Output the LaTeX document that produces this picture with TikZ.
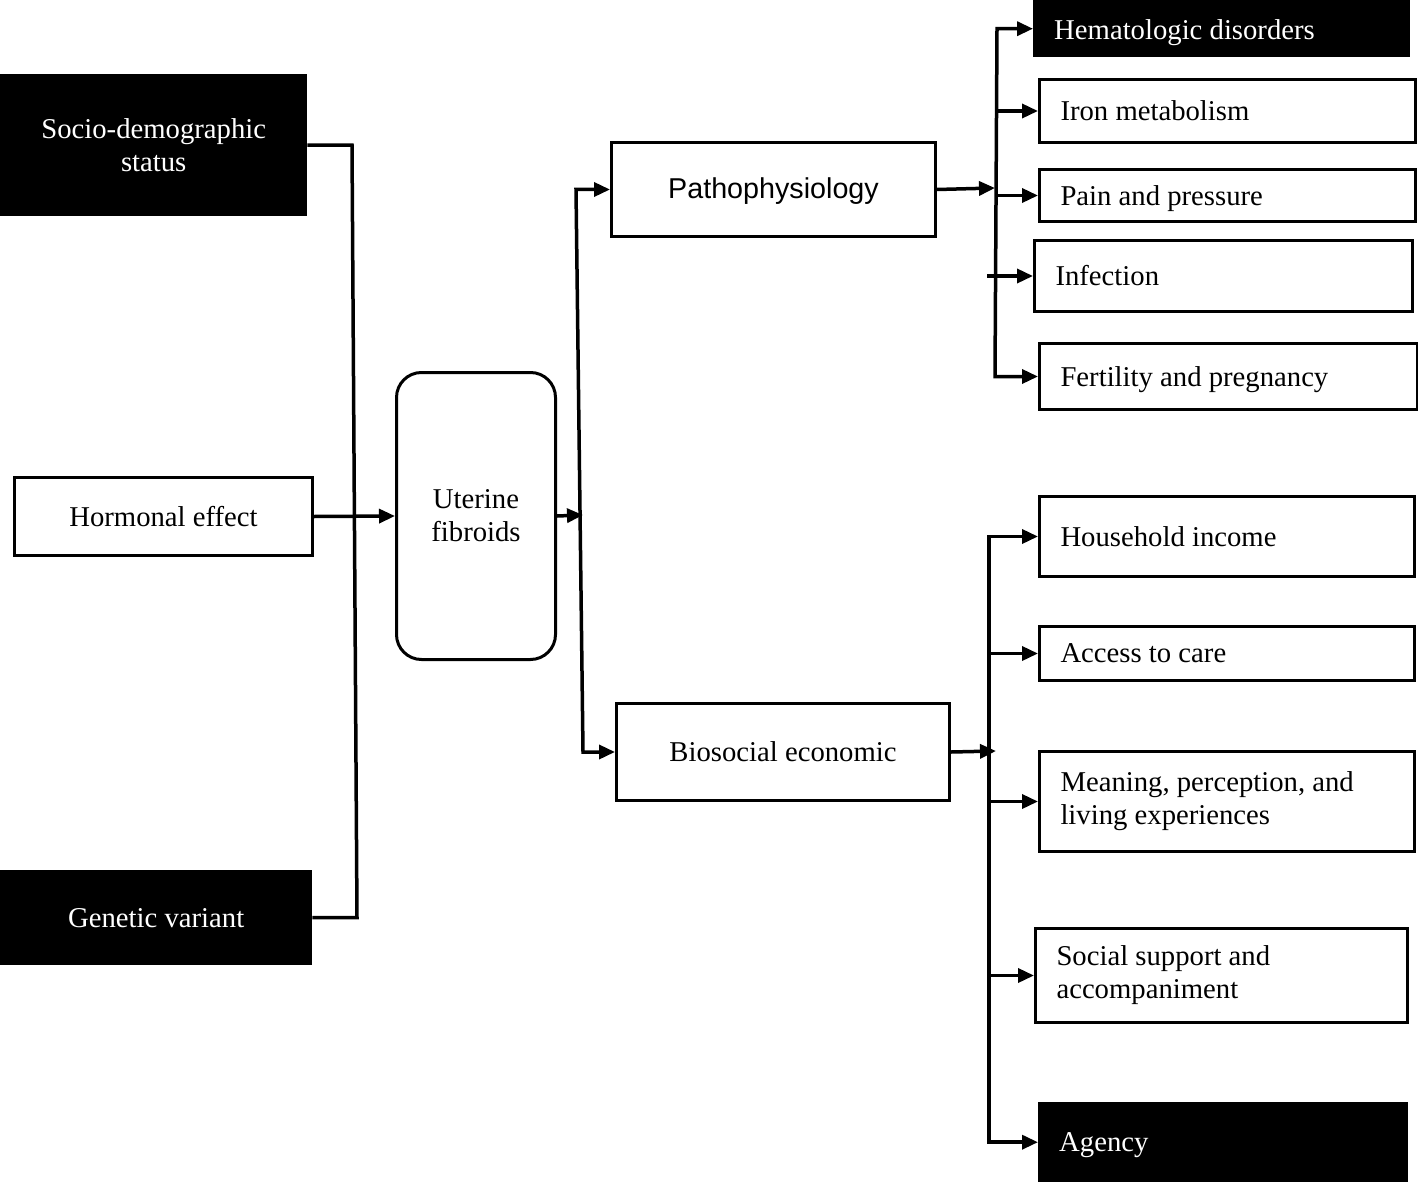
\documentclass[tikz,border=0pt]{standalone}
\usepackage{fontspec}
\setmainfont{Liberation Serif}
\newfontfamily\hvfont{Liberation Sans}
\usetikzlibrary{arrows.meta}
\newcommand{\lowertext}[2]{\raisebox{-#1}[\height][\depth]{#2}}
\begin{document}
\begin{tikzpicture}[x=1pt,y=-1pt,
  every node/.style={font=\fontsize{28.7}{33}\selectfont, inner sep=0pt},
  box/.style={draw, line width=3pt, rectangle, anchor=north west},
  blk/.style={fill=black, text=white, rectangle, anchor=north west},
  lft/.style={align=flush left, inner xsep=21pt},
  ctr/.style={align=center},
  ln/.style={line width=3.5pt},
  arr/.style={line width=3.5pt, -{Triangle[length=16pt,width=14pt]}},
  dblarr/.style={line width=3.5pt, {Triangle[length=16pt,width=14pt]}-{Triangle[length=16pt,width=14pt]}}]
\useasboundingbox (0,0) rectangle (1418,1182);
% left column
\node[blk, ctr, minimum width=307, minimum height=142] (soc) at (0,74) {Socio-demographic\\status};
\node[box, ctr, minimum width=298, minimum height=78] (hor) at (13,476) {Hormonal effect};
\node[blk, ctr, minimum width=312, minimum height=95] (gen) at (0,870) {Genetic variant};
% centre
\node[box, ctr, rounded corners=25pt, minimum width=159, minimum height=287] (uf) at (395,371) {Uterine\\fibroids};
\node[box, ctr, minimum width=324, minimum height=94, font=\hvfont\fontsize{28.7}{33}\selectfont] (pat) at (610,141) {\lowertext{2pt}{Pathophysiology}};
\node[box, ctr, minimum width=333, minimum height=97] (bio) at (615,702) {Biosocial economic};
% right, upper group
\node[blk, lft, text width=335, minimum height=57] (hem) at (1033,0) {\lowertext{4pt}{Hematologic disorders}};
\node[box, lft, text width=334, minimum height=63] (iro) at (1038,78) {Iron metabolism};
\node[box, lft, text width=334, minimum height=52] (pai) at (1038,168) {\lowertext{3pt}{Pain and pressure}};
\node[box, lft, text width=336, minimum height=71] (inf) at (1033,239) {Infection};
\node[box, lft, text width=336, minimum height=66] (fer) at (1038,342) {\lowertext{3pt}{Fertility and pregnancy}};
% right, lower group
\node[box, lft, text width=333, minimum height=80] (hou) at (1038,495) {Household income};
\node[box, lft, text width=333, minimum height=54] (acc) at (1038,625) {Access to care};
\node[box, lft, text width=333, minimum height=100] (mea) at (1038,750) {Meaning, perception, and\\living experiences};
\node[box, lft, text width=330, minimum height=94] (sup) at (1034,927) {Social support and\\accompaniment};
\node[blk, lft, text width=328, minimum height=80] (age) at (1038,1102) {\lowertext{3pt}{Agency}};
% bus coordinates
\coordinate (lbt) at (352,0);
\coordinate (lbb) at (357,0);
\coordinate (mbt) at (576,0);
\coordinate (mbb) at (583,0);
\coordinate (mjoin) at (583,515);
\coordinate (r1t) at (997,0);
\coordinate (r1b) at (995,0);
\coordinate (r1i) at (987,0);
\coordinate (r1j) at (995,188);
\coordinate (r2) at (989,0);
\coordinate (r2j) at (996,751);
% left bus
\draw[ln] (soc.east) -- (soc.east -| lbt) -- (gen.east -| lbb) -- (gen.east);
\draw[arr] (hor.east) -- (uf.west);
% middle bus
\draw[arr] (uf.east) -- (mjoin);
\draw[dblarr] (pat.west) -- (pat.west -| mbt) -- (bio.west -| mbb) -- (bio.west);
% right bus 1
\draw[arr] (pat.east) -- (r1j);
\draw[dblarr] (hem.west) -- (hem.west -| r1t) -- (fer.west -| r1b) -- (fer.west);
\draw[arr] (iro.west -| r1t) -- (iro.west);
\draw[arr] (pai.west -| r1t) -- (pai.west);
\draw[arr] (inf.west -| r1i) -- (inf.west);
% right bus 2
\draw[arr] (bio.east) -- (r2j);
\draw[dblarr] (hou.west) -- (hou.west -| r2) -- (age.west -| r2) -- (age.west);
\draw[arr] (acc.west -| r2) -- (acc.west);
\draw[arr] (mea.west -| r2) -- (mea.west);
\draw[arr] (sup.west -| r2) -- (sup.west);
\end{tikzpicture}
\end{document}
